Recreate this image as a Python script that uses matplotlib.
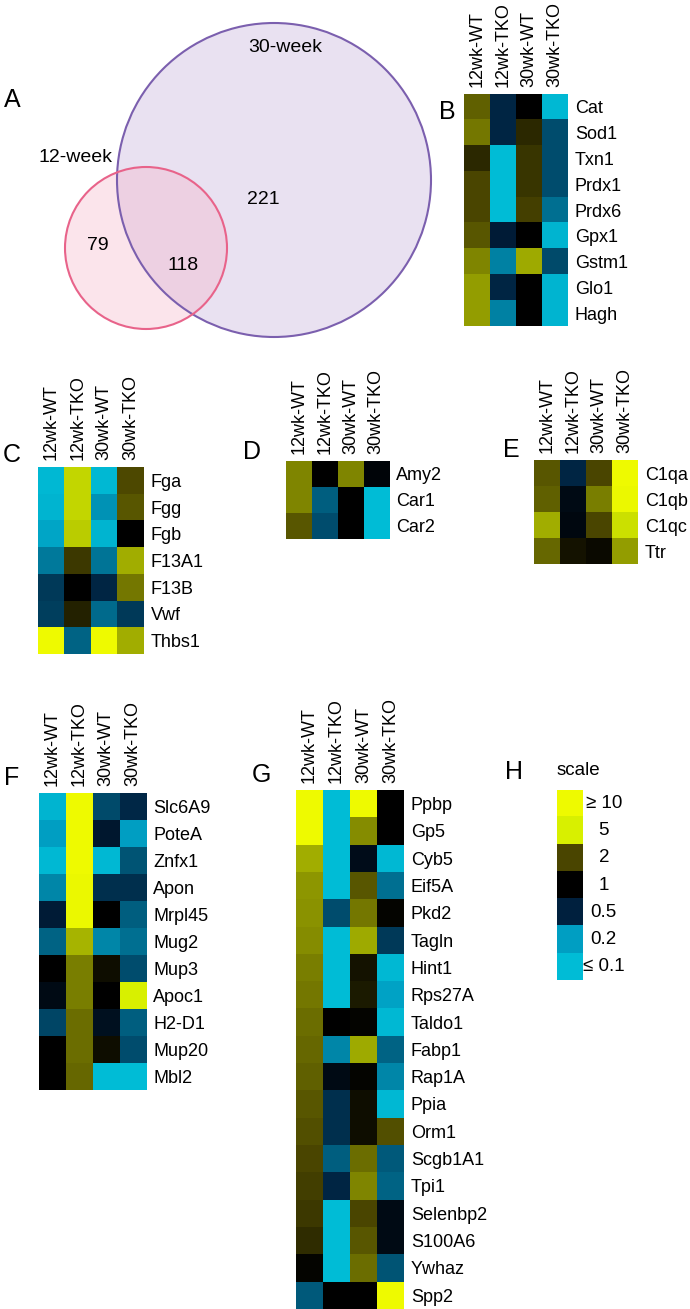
import numpy as np
import matplotlib.pyplot as plt
from matplotlib.colors import LinearSegmentedColormap
from matplotlib.patches import Circle

plt.rcParams['font.family'] = ['Liberation Sans', 'DejaVu Sans']

W, H = 690, 1309

samples = ['12wk-WT', '12wk-TKO', '30wk-WT', '30wk-TKO']

# venn counts
only_12wk = 79
shared = 118
only_30wk = 221

# fold changes, one row per gene, columns in the order of samples
genes_b = ['Cat', 'Sod1', 'Txn1', 'Prdx1', 'Prdx6', 'Gpx1', 'Gstm1', 'Glo1', 'Hagh']
fc_b = [[2.3, 0.48, 1.0, 0.11],
        [2.6, 0.48, 1.5, 0.36],
        [1.5, 0.10, 1.7, 0.36],
        [2.0, 0.10, 1.7, 0.36],
        [2.0, 0.10, 1.9, 0.28],
        [2.2, 0.55, 1.0, 0.12],
        [2.8, 0.25, 3.4, 0.37],
        [3.2, 0.48, 1.0, 0.12],
        [3.2, 0.25, 1.0, 0.12]]

genes_c = ['Fga', 'Fgg', 'Fgb', 'F13A1', 'F13B', 'Vwf', 'Thbs1']
fc_c = [[0.11, 4.3, 0.11, 2.05],
        [0.12, 4.3, 0.22, 2.2],
        [0.17, 4.1, 0.12, 1.0],
        [0.26, 1.75, 0.27, 3.5],
        [0.42, 1.0, 0.48, 2.6],
        [0.40, 1.4, 0.29, 0.42],
        [10, 0.31, 10, 3.5]]

genes_d = ['Amy2', 'Car1', 'Car2']
fc_d = [[2.8, 1.0, 2.8, 0.9],
        [2.8, 0.32, 1.0, 0.10],
        [2.2, 0.36, 1.0, 0.10]]

genes_e = ['C1qa', 'C1qb', 'C1qc', 'Ttr']
fc_e = [[2.2, 0.48, 2.0, 10],
        [2.3, 0.80, 2.7, 9],
        [3.5, 0.85, 2.0, 4.6],
        [2.4, 1.2, 1.1, 3.2]]

genes_f = ['Slc6A9', 'PoteA', 'Znfx1', 'Apon', 'Mrpl45', 'Mug2', 'Mup3',
           'Apoc1', 'H2-D1', 'Mup20', 'Mbl2']
fc_f = [[0.12, 10, 0.37, 0.47],
        [0.20, 10, 0.60, 0.20],
        [0.11, 10, 0.11, 0.34],
        [0.24, 9, 0.45, 0.45],
        [0.55, 9, 1.0, 0.32],
        [0.31, 3.6, 0.24, 0.28],
        [1.0, 2.7, 1.15, 0.36],
        [0.80, 2.7, 1.0, 5],
        [0.38, 2.5, 0.70, 0.32],
        [1.0, 2.5, 1.15, 0.36],
        [1.0, 2.4, 0.10, 0.10]]

genes_g = ['Ppbp', 'Gp5', 'Cyb5', 'Eif5A', 'Pkd2', 'Tagln', 'Hint1', 'Rps27A',
           'Taldo1', 'Fabp1', 'Rap1A', 'Ppia', 'Orm1', 'Scgb1A1', 'Tpi1',
           'Selenbp2', 'S100A6', 'Ywhaz', 'Spp2']
fc_g = [[10, 0.10, 10, 1.0],
        [10, 0.10, 2.9, 1.0],
        [3.5, 0.10, 0.75, 0.11],
        [3.1, 0.10, 2.2, 0.28],
        [3.0, 0.36, 2.6, 1.05],
        [2.9, 0.10, 3.4, 0.42],
        [2.7, 0.10, 1.2, 0.11],
        [2.6, 0.10, 1.3, 0.18],
        [2.5, 1.0, 1.05, 0.11],
        [2.4, 0.24, 3.4, 0.31],
        [2.3, 0.80, 1.05, 0.24],
        [2.2, 0.45, 1.15, 0.11],
        [2.1, 0.45, 1.15, 2.1],
        [2.0, 0.32, 2.5, 0.33],
        [1.85, 0.48, 2.8, 0.31],
        [1.75, 0.10, 2.0, 0.80],
        [1.55, 0.10, 2.2, 0.80],
        [1.05, 0.10, 2.5, 0.34],
        [0.33, 1.0, 1.0, 10]]

scale_values = [10, 5, 2, 1, 0.5, 0.2, 0.1]
scale_labels = ['\u2265 10', '5', '2', '1', '0.5', '0.2', '\u2264 0.1']

# colour map on log10 fold change, -1 (0.1) .. 1 (10)
anchors = [(0.0, '#00bcd6'), (0.1505, '#009ec2'), (0.3495, '#00203e'),
           (0.5, '#000000'), (0.6505, '#4a4500'), (0.8495, '#d8f000'),
           (1.0, '#eefa00')]
cmap = LinearSegmentedColormap.from_list('fc', anchors)

fig = plt.figure(figsize=(W / 100, H / 100), dpi=100)

# background axes in pixel units for venn and panel letters
ax0 = fig.add_axes([0, 0, 1, 1])
ax0.set_xlim(0, W)
ax0.set_ylim(H, 0)
ax0.axis('off')

big = (274, 180, 157)
small = (146, 248, 81)
ax0.add_patch(Circle(big[:2], big[2], facecolor='#e9e1f1', edgecolor='none'))
ax0.add_patch(Circle(small[:2], small[2], facecolor='#f6b2c8', alpha=0.35,
                     edgecolor='none'))
ax0.add_patch(Circle(big[:2], big[2], facecolor='none', edgecolor='#7b5fae', lw=1.5))
ax0.add_patch(Circle(small[:2], small[2], facecolor='none', edgecolor='#e8638a', lw=1.5))

vfs = 14
ax0.text(285, 47, '30-week', fontsize=vfs, ha='center', va='center')
ax0.text(75, 158, '12-week', fontsize=vfs, ha='center', va='center')
ax0.text(98, 245, str(only_12wk), fontsize=vfs, ha='center', va='center')
ax0.text(183, 265, str(shared), fontsize=vfs, ha='center', va='center')
ax0.text(263, 200, str(only_30wk), fontsize=vfs, ha='center', va='center')

lfs = 18
for letter, x, y in [('A', 12, 100), ('B', 447, 112), ('C', 12, 455),
                     ('D', 252, 452), ('E', 511, 450), ('F', 12, 778),
                     ('G', 261, 775), ('H', 514, 772)]:
    ax0.text(x, y, letter, fontsize=lfs, ha='center', va='center')


def heatmap(x0, y0, cw, rh, genes, values):
    n = len(genes)
    ax = fig.add_axes([x0 / W, 1 - (y0 + rh * n) / H, cw * 4 / W, rh * n / H])
    ax.imshow(np.log10(np.array(values)), cmap=cmap, vmin=-1, vmax=1,
              aspect='auto', interpolation='nearest')
    ax.set_xticks(range(4))
    ax.set_xticklabels(samples, rotation=90)
    ax.xaxis.tick_top()
    ax.set_yticks(range(n))
    ax.set_yticklabels(genes)
    ax.yaxis.tick_right()
    ax.tick_params(length=0, pad=5, labelsize=13)
    for s in ax.spines.values():
        s.set_visible(False)
    return ax


heatmap(464, 94, 26, 25.8, genes_b, fc_b)
heatmap(38, 467, 26.5, 26.7, genes_c, fc_c)
heatmap(286, 461, 25.8, 26, genes_d, fc_d)
heatmap(534, 460, 26, 26, genes_e, fc_e)
heatmap(39, 793, 26.8, 27, genes_f, fc_f)
heatmap(296, 790, 27, 27.3, genes_g, fc_g)

# scale legend
n = len(scale_values)
axh = fig.add_axes([557 / W, 1 - (790 + 27.2 * n) / H, 26 / W, 27.2 * n / H])
axh.imshow(np.log10(np.array(scale_values)).reshape(-1, 1), cmap=cmap,
           vmin=-1, vmax=1, aspect='auto', interpolation='nearest')
axh.axis('off')
for i, lab in enumerate(scale_labels):
    axh.text(1.3, i, lab, fontsize=13.5, ha='center', va='center')
axh.text(-0.5, -1.2, 'scale', fontsize=13.5, ha='left', va='center')

fig.savefig('out.png', dpi=100)
